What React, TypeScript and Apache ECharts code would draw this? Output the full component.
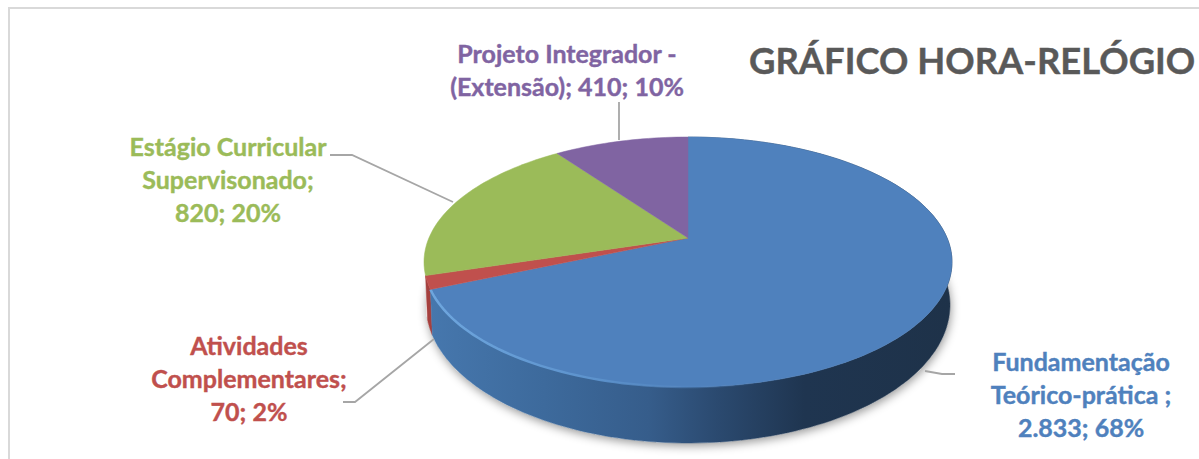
import React, { useEffect, useRef } from "react";
import * as echarts from "echarts";

const categories = ["Fundamentação Teórico-prática", "Atividades Complementares", "Estágio Curricular Supervisonado", "Projeto Integrador - (Extensão)"];
const values = [2833, 70, 820, 410];
const labelTexts = [
  "Fundamentação\nTeórico-prática ;\n2.833; 68%",
  "Atividades\nComplementares;\n70; 2%",
  "Estágio Curricular\nSupervisonado;\n820; 20%",
  "Projeto Integrador -\n(Extensão); 410; 10%",
];
const colors = ["#4f81bd", "#c0504d", "#9bbb59", "#8064a2"];
const titleText = "GRÁFICO HORA-RELÓGIO";

const total = values.reduce((a, b) => a + b, 0);
const TOP = { cx: 688, cy: 262, rx: 264, ry: 125 };
const BOT = { cx: 688, cy: 305, rx: 262, ry: 138 };
const Q0 = 0.192;
const FONT = "Lato, Carlito, sans-serif";

// angle (clockwise from top) -> point of the tilted disc whose centre is the pie's apex
function disc(a: number) {
  const p = Math.sin(a), q = Math.cos(a);
  const d = 1 + q * Q0;
  return [(p * Math.sqrt(1 - Q0 * Q0)) / d, (q + Q0) / d];
}
const onEllipse = (e: typeof TOP, uv: number[]) => [e.cx + e.rx * uv[0], e.cy - e.ry * uv[1]];
function arc(e: typeof TOP, a0: number, a1: number) {
  const n = Math.max(4, Math.ceil(((a1 - a0) / (Math.PI * 2)) * 240));
  const pts: number[][] = [];
  for (let i = 0; i <= n; i++) pts.push(onEllipse(e, disc(a0 + ((a1 - a0) * i) / n)));
  return pts;
}
function angles(value: number, index: number) {
  let before = 0;
  for (let i = 0; i < index; i++) before += values[i];
  const a0 = (before / total) * Math.PI * 2;
  return [a0, a0 + (value / total) * Math.PI * 2];
}
const apex = () => [TOP.cx, TOP.cy - TOP.ry * Q0];

const G = (x0: number, x1: number, stops: [number, string][]) =>
  new echarts.graphic.LinearGradient(x0, 0, x1, 0, stops.map(([offset, color]) => ({ offset, color })), true);

export default function App() {
  const ref = useRef<HTMLDivElement>(null);
  useEffect(() => {
    const chart = echarts.init(ref.current!, undefined, { renderer: "svg" });
    const data = values.map((v, i) => ({ name: categories[i], value: v }));

    const blueSide = G(430, 950, [
      [0, "#4677ad"],
      [0.22, "#3d6a9c"],
      [0.42, "#365d8b"],
      [0.55, "#2b4a70"],
      [0.72, "#1f3550"],
      [1, "#1e3249"],
    ]);

    const leader = (points: number[][]) => ({
      type: "polyline",
      z: 5,
      shape: { points },
      style: { stroke: "#a6a6a6", lineWidth: 1.8, fill: "none" },
    });
    const label = (i: number, x: number, y: number) => ({
      type: "text",
      z: 10,
      x,
      y,
      style: {
        text: labelTexts[i],
        fill: colors[i],
        stroke: colors[i],
        lineWidth: 0.4,
        font: `bold 25px ${FONT}`,
        lineHeight: 33,
        align: "center",
        verticalAlign: "middle",
      },
    });

    chart.setOption({
      animation: false,
      backgroundColor: "#ffffff",
      graphic: [
        {
          type: "rect",
          z: 0,
          shape: { x: 9, y: 8, width: 1400, height: 700 },
          style: { fill: "none", stroke: "#d9d9d9", lineWidth: 2 },
        },
        leader([[619, 102], [619, 140]]),
        leader([[330, 155], [352, 155], [453, 202]]),
        leader([[343, 402], [355, 402], [434, 339]]),
        leader([[925, 371], [942, 374], [955, 374]]),
        label(0, 1081, 394),
        label(1, 249, 378),
        label(2, 228, 179),
        label(3, 567, 69),
        {
          type: "text",
          z: 10,
          x: 749,
          y: 60,
          style: { text: titleText, fill: "#595959", stroke: "#595959", lineWidth: 0.4, font: `bold 36.4px ${FONT}`, align: "left", verticalAlign: "middle" },
        },
      ],
      series: [
        {
          type: "custom",
          name: "sombra",
          coordinateSystem: "none",
          z: 2,
          silent: true,
          data: [total],
          renderItem: () => {
            const pts = arc(BOT, 0, Math.PI * 2);
            return {
              type: "polygon",
              shape: { points: pts },
              style: { fill: "#ffffff", shadowBlur: 10, shadowColor: "rgba(0,0,0,0.4)", shadowOffsetY: 3, shadowOffsetX: 1 },
            };
          },
        },
        {
          type: "custom",
          name: "lados",
          coordinateSystem: "none",
          z: 3,
          silent: true,
          data: [...data].reverse(),
          renderItem: (params: any, api: any) => {
            const i = values.length - 1 - params.dataIndex;
            const [a0, a1] = angles(api.value(0), i);
            const mid = disc((a0 + a1) / 2);
            if (mid[1] > 0) return null;
            const upper = arc(TOP, a0, a1);
            const lower = arc(BOT, a0, a1).reverse();
            const fill = i === 0 ? blueSide : "#a5403e";
            return {
              type: "polygon",
              shape: { points: upper.concat(lower) },
              style: { fill, stroke: fill, lineWidth: 0.5 },
            };
          },
        },
        {
          type: "custom",
          name: "topo",
          coordinateSystem: "none",
          z: 4,
          silent: true,
          data,
          renderItem: (params: any, api: any) => {
            const i = params.dataIndex;
            const [a0, a1] = angles(api.value(0), i);
            const pts = [apex(), ...arc(TOP, a0, a1)];
            const children: any[] = [
              {
                type: "polygon",
                shape: { points: pts },
                style: { fill: colors[i], stroke: colors[i], lineWidth: 0.5 },
              },
            ];
            if (i === 0) {
              children.push({
                type: "polyline",
                shape: { points: arc(TOP, (a0 + a1) * 0.5, a1) },
                style: {
                  fill: "none",
                  lineWidth: 2.5,
                  stroke: G(432, 760, [
                    [0, "#6ea6de"],
                    [0.5, "#5c92cc"],
                    [1, "rgba(79,129,189,0)"],
                  ]),
                },
              });
            }
            return { type: "group", children };
          },
        },
      ],
    });
    return () => chart.dispose();
  }, []);
  return <div ref={ref} style={{ position: "absolute", left: 0, top: 0, width: 1199, height: 459 }} />;
}
